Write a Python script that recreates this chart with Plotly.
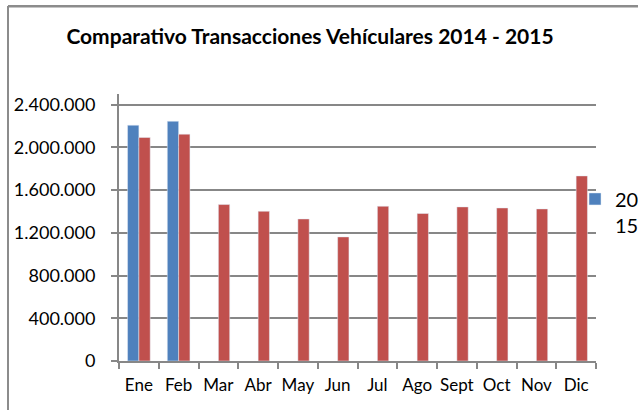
import plotly.graph_objects as go

meses = ["Ene", "Feb", "Mar", "Abr", "May", "Jun", "Jul", "Ago", "Sept", "Oct", "Nov", "Dic"]
trans_2015 = [2208000, 2245000, None, None, None, None, None, None, None, None, None, None]
trans_2014 = [2093000, 2124000, 1465000, 1402000, 1330000, 1162000,
              1449000, 1381000, 1443000, 1433000, 1424000, 1733000]
y_ticks = [0, 400000, 800000, 1200000, 1600000, 2000000, 2400000]

FONT = "Lato, 'Noto Sans', sans-serif"
GRIS = "#878787"

W, H = 638, 410

fig = go.Figure()
fig.add_trace(go.Bar(x=meses, y=trans_2015, name="20<br>15", marker_color="#4F81BD"))
fig.add_trace(go.Bar(x=meses, y=trans_2014, name="2014", marker_color="#C0504D",
                     showlegend=False))

fig.update_layout(
    width=W,
    height=H,
    barmode="group",
    bargap=0.43,
    bargroupgap=0,
    separators=",.",
    paper_bgcolor="white",
    plot_bgcolor="white",
    font=dict(family=FONT, color="black"),
    margin=dict(l=119, r=42, t=94, b=49, autoexpand=False),
    title=dict(
        text="<b>Comparativo Transacciones Vehículares 2014 - 2015</b>",
        font=dict(size=21, family=FONT, color="black"),
        x=310 / W, xanchor="center", xref="container",
        y=1 - 37 / H, yanchor="middle", yref="container",
    ),
    legend=dict(
        x=0.956, xanchor="left", y=0.68, yanchor="top",
        font=dict(size=20, family=FONT),
        valign="top", bgcolor="rgba(0,0,0,0)",
    ),
)

fig.update_xaxes(
    showline=True, linecolor=GRIS, linewidth=2,
    ticks="outside", tickson="boundaries", ticklen=6, tickcolor=GRIS, tickwidth=2,
    tickfont=dict(size=17), tickangle=0, ticklabelstandoff=8,
    showgrid=False,
)
fig.update_yaxes(
    range=[0, 2500000],
    tickvals=y_ticks, tickformat=",.0f",
    showline=True, linecolor=GRIS, linewidth=2,
    ticks="outside", ticklen=6, tickcolor=GRIS, tickwidth=2,
    tickfont=dict(size=18), ticklabelstandoff=12,
    showgrid=True, gridcolor=GRIS, gridwidth=2,
    zeroline=False,
)

# marco del gráfico (cortado por la derecha y abajo como en la captura)
x_marco = (8 - 119) / 477
y_marco = (361 - 6) / 267
marco = dict(color="#8C8C8C", width=2)
fig.add_shape(type="rect", xref="paper", yref="paper",
              x0=x_marco, x1=1.2, y0=(361 - 7.5) / 267, y1=(361 - 5) / 267,
              fillcolor="#8C8C8C", line=dict(width=0))
fig.add_shape(type="line", xref="paper", yref="paper",
              x0=x_marco, x1=x_marco, y0=-0.3, y1=y_marco, line=marco)

# sin el margen por defecto del body, la figura llena la ventana
fig.write_html("out.html", config={"displayModeBar": False},
               post_script="document.body.style.margin='0px';")
